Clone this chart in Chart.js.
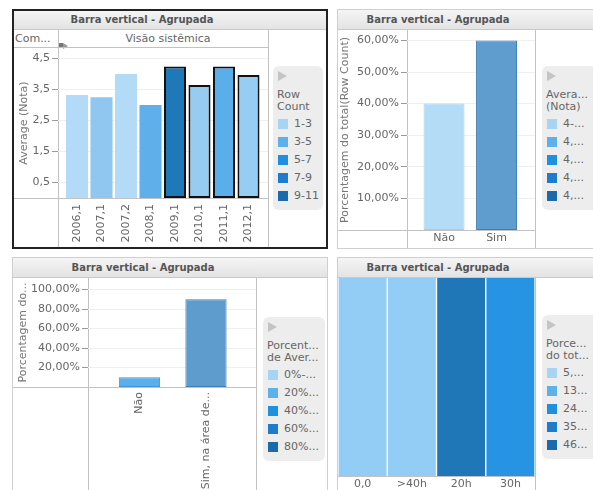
<!DOCTYPE html>
<html>
<head>
<meta charset="utf-8">
<script src="https://cdn.jsdelivr.net/npm/chart.js@4.4.0/dist/chart.umd.min.js"></script>
<style>
  body { margin: 0; width: 593px; height: 490px; overflow: hidden; background: #fff; position: relative; font-family: "DejaVu Sans", sans-serif; }
  .abs { position: absolute; }
  .box { position: absolute; box-sizing: border-box; border: 1px solid #cfcfcf; }
  .bar { position: absolute; background: linear-gradient(#f5f5f5, #e3e3e3); border-bottom: 1px solid #c9c9c9; }
  .ttl { position: absolute; width: 200px; text-align: center; font: bold 10px "DejaVu Sans", sans-serif; color: #555; line-height: 19px; }
  .ln { position: absolute; background: #c2c2c2; }
  .txt { position: absolute; font: 11px "DejaVu Sans", sans-serif; color: #666; white-space: nowrap; }
  .lg { position: absolute; background: #ededed; border-radius: 6px; overflow: hidden; }
  .tri { position: absolute; width: 0; height: 0; border-top: 5px solid transparent; border-bottom: 5px solid transparent; border-left: 9px solid #c4c4c4; }
  canvas { position: absolute; }
</style>
</head>
<body>

<!-- moldura dos painéis -->
<div class="box" style="left:12px;top:9px;width:316px;height:240px;border:2px solid #222;"></div>
<div class="box" style="left:337px;top:9px;width:270px;height:240px;"></div>
<div class="box" style="left:12px;top:257px;width:316px;height:250px;"></div>
<div class="box" style="left:337px;top:257px;width:270px;height:250px;"></div>

<div class="bar" style="left:14px;top:11px;width:312px;height:18px;"></div>
<div class="bar" style="left:338px;top:10px;width:268px;height:19px;"></div>
<div class="bar" style="left:13px;top:258px;width:314px;height:19px;"></div>
<div class="bar" style="left:338px;top:258px;width:268px;height:19px;"></div>

<div class="ttl" style="left:42px;top:10px;">Barra vertical - Agrupada</div>
<div class="ttl" style="left:338px;top:10px;">Barra vertical - Agrupada</div>
<div class="ttl" style="left:43px;top:258px;">Barra vertical - Agrupada</div>
<div class="ttl" style="left:338px;top:258px;">Barra vertical - Agrupada</div>

<!-- painel 1: cabeçalho -->
<div class="txt" style="left:15px;top:30px;line-height:17px;">Com...</div>
<div class="txt" id="trellis" style="left:68px;top:30px;width:200px;text-align:center;line-height:17px;"></div>
<div class="abs" style="left:59px;top:43px;width:4px;height:5px;background:#777;"></div>
<div class="abs" style="left:63px;top:43px;width:0;height:0;border-top:3px solid transparent;border-bottom:3px solid transparent;border-left:5px solid #999;"></div>

<!-- linhas das grades -->
<div class="ln" style="left:58px;top:30px;width:1px;height:217px;"></div>
<div class="ln" style="left:268px;top:30px;width:1px;height:217px;"></div>
<div class="ln" style="left:14px;top:47px;width:254px;height:1px;"></div>
<div class="ln" style="left:14px;top:198px;width:254px;height:1px;"></div>

<div class="ln" style="left:407px;top:30px;width:1px;height:218px;"></div>
<div class="ln" style="left:535px;top:30px;width:1px;height:218px;"></div>
<div class="ln" style="left:338px;top:230px;width:197px;height:1px;"></div>

<div class="ln" style="left:88px;top:278px;width:1px;height:212px;"></div>
<div class="ln" style="left:256px;top:278px;width:1px;height:212px;"></div>
<div class="ln" style="left:13px;top:387px;width:243px;height:1px;"></div>

<div class="ln" style="left:535px;top:278px;width:1px;height:212px;"></div>
<div class="ln" style="left:338px;top:476px;width:197px;height:1px;"></div>

<canvas id="c1" width="254" height="199" style="left:14px;top:48px;"></canvas>
<canvas id="c2" width="197" height="218" style="left:338px;top:30px;"></canvas>
<canvas id="c3" width="243" height="212" style="left:13px;top:278px;"></canvas>
<canvas id="c4" width="197" height="222" style="left:338px;top:278px;"></canvas>

<script>
// painel 1 - média da nota por semestre
const semestres = ['2006,1', '2007,1', '2007,2', '2008,1', '2009,1', '2010,1', '2011,1', '2012,1'];
const mediaNota = [3.32, 3.25, 4.0, 3.0, 4.24, 3.65, 4.24, 3.97];
const coresNota = ['#b3dbf7', '#8fc7f0', '#b3dbf7', '#5fb0ea', '#1f78b8', '#96ccf2', '#5aaeea', '#96cdf3'];
const marcados = [false, false, false, false, true, true, true, true];
const ticksNota = [0.5, 1.5, 2.5, 3.5, 4.5];
const tituloTrellis = 'Visão sistêmica';
const legRowCount = ['1-3', '3-5', '5-7', '7-9', '9-11'];

// painel 2 - porcentagem do total (Row Count)
const naoSim = ['Não', 'Sim'];
const pctRowCount = [40, 60];
const coresRowCount = ['#b5dcf7', '#5e9dcd'];
const bordasRowCount = ['#9fcff2', '#3f7fb6'];
const ticksPct60 = [10, 20, 30, 40, 50, 60];
const legMedia = ['4-...', '4,...', '4,...', '4,...', '4,...'];

// painel 3 - porcentagem por área
const areaCats = ['Não', 'Sim, na área de...'];
const pctArea = [10, 90];
const coresArea = ['#5caeea', '#5d9ccc'];
const bordasArea = ['#3f95d6', '#3f7fb6'];
const ticksPct100 = [20, 40, 60, 80, 100];
const legPctMedia = ['0%-...', '20%...', '40%...', '60%...', '80%...'];

// painel 4 - horas
const horas = ['0,0', '>40h', '20h', '30h'];
const pctHoras = [100, 100, 100, 100];
const coresHoras = ['#93cdf5', '#93cdf5', '#2077b8', '#2694e3'];
const legPctTotal = ['5,...', '13...', '24...', '35...', '46...'];

const coresLegenda = ['#a8d4f4', '#5eb0ea', '#1f8fe0', '#1e7ccc', '#1a6aac'];

Chart.defaults.font.family = '"DejaVu Sans", sans-serif';
Chart.defaults.font.size = 11;
Chart.defaults.color = '#666';

document.getElementById('trellis').textContent = tituloTrellis;

function legenda(x, y, w, titulo, itens) {
    const lg = document.createElement('div');
    lg.className = 'lg';
    lg.style.cssText = `left:${x}px;top:${y}px;width:${w}px;height:144px;`;
    let html = '<div class="tri" style="left:5px;top:5px;"></div>';
    titulo.forEach((t, i) => {
        html += `<div class="txt" style="left:4px;top:${22 + i * 12}px;line-height:13px;">${t}</div>`;
    });
    itens.forEach((t, i) => {
        const cy = 58 + i * 18;
        html += `<div class="abs" style="left:5px;top:${cy - 5}px;width:10px;height:10px;background:${coresLegenda[i]};"></div>`;
        html += `<div class="txt" style="left:21px;top:${cy - 7}px;line-height:14px;">${t}</div>`;
    });
    lg.innerHTML = html;
    document.body.appendChild(lg);
}

legenda(273, 66, 50, ['Row', 'Count'], legRowCount);
legenda(542, 66, 60, ['Avera...', '(Nota)'], legMedia);
legenda(263, 317, 62, ['Porcent...', 'de Aver...'], legPctMedia);
legenda(542, 315, 60, ['Porce...', 'do tot...'], legPctTotal);

function grafico(id, o) {
    return new Chart(document.getElementById(id), {
        type: 'bar',
        data: {
            datasets: [{
                data: o.valores.map((v, i) => ({ x: i, y: v })),
                backgroundColor: o.cores,
                borderColor: o.bordas,
                borderWidth: o.larguraBorda,
                borderSkipped: false,
                barPercentage: o.barPct,
                categoryPercentage: 1,
            }]
        },
        options: {
            responsive: false,
            animation: false,
            events: [],
            layout: { padding: 0 },
            plugins: { legend: { display: false }, tooltip: { enabled: false } },
            scales: {
                x: {
                    type: 'linear', bounds: 'data', offset: false,
                    min: o.xMin, max: o.xMax,
                    afterBuildTicks: s => { s.ticks = o.categorias.map((_, i) => ({ value: i })); },
                    afterFit: s => { s.height = o.alturaX; s.paddingLeft = 0; s.paddingRight = 0; },
                    grid: { display: false, drawTicks: false },
                    border: { display: false },
                    ticks: {
                        callback: v => o.categorias[v],
                        autoSkip: false,
                        minRotation: o.rot, maxRotation: o.rot,
                        padding: o.padX,
                        color: '#666',
                    }
                },
                y: {
                    display: o.mostraY,
                    bounds: 'data',
                    min: 0, max: o.yMax,
                    afterBuildTicks: s => { s.ticks = o.ticksY.map(v => ({ value: v })); },
                    // o eixo não deve reservar meia linha de texto acima/abaixo
                    afterFit: s => { s.width = o.larguraY; s.paddingTop = 0; s.paddingBottom = 0; },
                    grid: { color: '#efefef', tickColor: '#9a9a9a', tickLength: 6 },
                    border: { display: false },
                    ticks: { callback: o.formato, padding: 2, color: '#666' },
                    title: {
                        display: true, text: o.tituloY, color: '#777',
                        padding: { top: o.padTitulo, bottom: 0 },
                    }
                }
            }
        }
    });
}

const fmtPct = v => v.toFixed(2).replace('.', ',') + '%';

grafico('c1', {
    categorias: semestres, valores: mediaNota, cores: coresNota,
    bordas: marcados.map(m => m ? '#111' : 'rgba(0,0,0,0)'),
    larguraBorda: marcados.map(m => m ? 2 : 0),
    barPct: 0.9, xMin: -0.7755, xMax: 7.796, alturaX: 49, rot: 90, padX: 6,
    mostraY: true, yMax: 4.84, ticksY: ticksNota, larguraY: 44,
    formato: v => v.toFixed(1).replace('.', ','), tituloY: 'Average (Nota)', padTitulo: 4,
});

grafico('c2', {
    categorias: naoSim, valores: pctRowCount, cores: coresRowCount, bordas: bordasRowCount,
    larguraBorda: 1, barPct: 0.78, xMin: -0.705, xMax: 1.733, alturaX: 18, rot: 0, padX: 2,
    mostraY: true, yMax: 63.3, ticksY: ticksPct60, larguraY: 69,
    formato: fmtPct, tituloY: 'Porcentagem do total(Row Count)', padTitulo: 1,
});

grafico('c3', {
    categorias: areaCats, valores: pctArea, cores: coresArea, bordas: bordasArea,
    larguraBorda: 1, barPct: 0.62, xMin: -0.774, xMax: 1.752, alturaX: 103, rot: 90, padX: 5,
    mostraY: true, yMax: 111.8, ticksY: ticksPct100, larguraY: 75,
    formato: fmtPct, tituloY: 'Porcentagem do...', padTitulo: 4,
});

grafico('c4', {
    categorias: horas, valores: pctHoras, cores: coresHoras, bordas: '#ffffff',
    larguraBorda: { left: 1, right: 1, top: 0, bottom: 0 },
    barPct: 1, xMin: -0.5, xMax: 3.5, alturaX: 24, rot: 0, padX: 2,
    mostraY: false, yMax: 100, ticksY: [], larguraY: 0,
    formato: v => v, tituloY: '', padTitulo: 0,
});
</script>
</body>
</html>
